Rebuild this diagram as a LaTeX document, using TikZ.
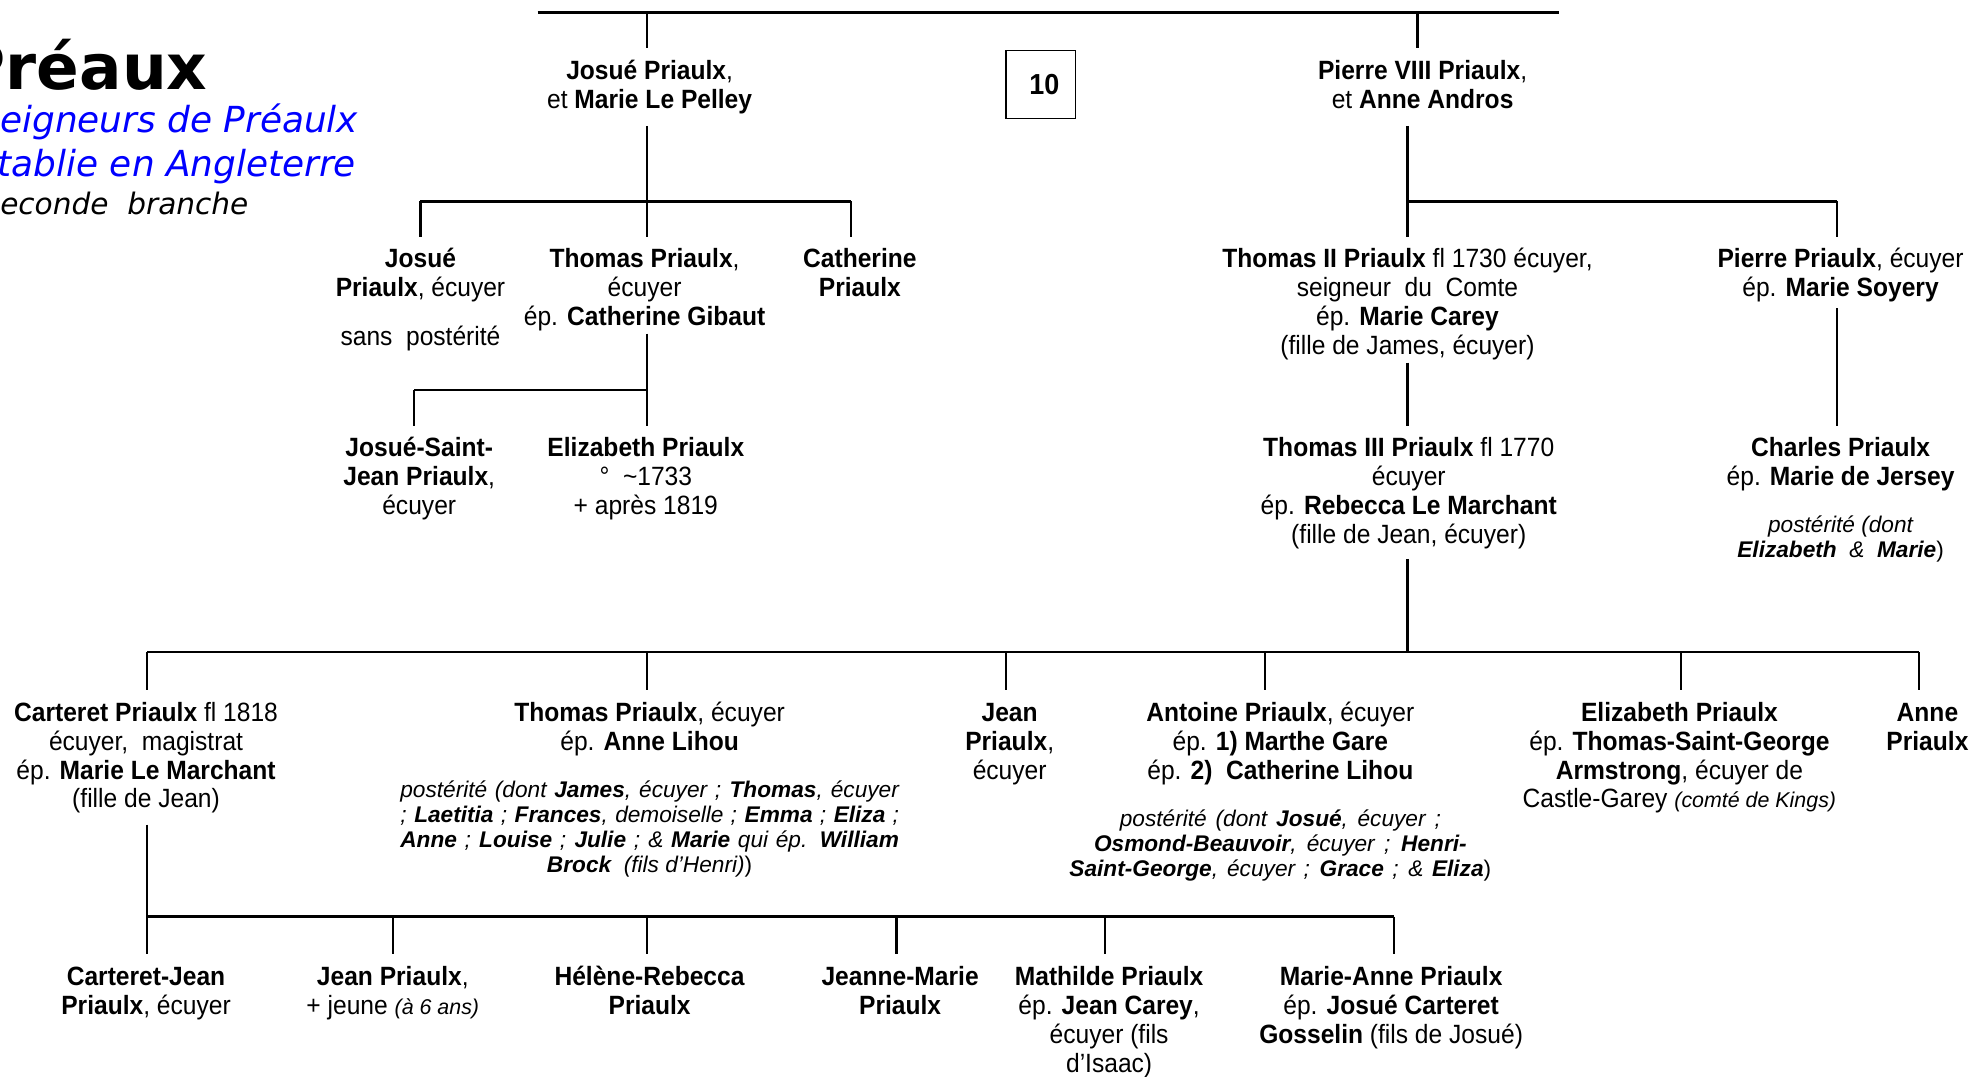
\documentclass[tikz,border=0pt]{standalone}
\usepackage{fontspec}
\setmainfont[FakeStretch=0.93]{Liberation Sans}
\newfontfamily\widefont{Liberation Sans}
\newfontfamily\titlefont{DejaVu Sans}
\definecolor{titleblue}{RGB}{0,0,255}
\newcommand{\smit}[1]{{\widefont\fontsize{17}{20}\selectfont\itshape #1}}
\begin{document}
\begin{tikzpicture}[x=1pt,y=-1pt,
  person/.style={anchor=north,align=center,inner sep=0pt,font=\fontsize{21}{23}\selectfont},
  post/.style={anchor=north,align=center,inner sep=0pt,font=\widefont\fontsize{18}{20}\selectfont\itshape},
  link/.style={line width=1.8pt},
  drop/.style={line width=1.8pt,shorten >=8.5pt},
  numbox/.style={draw,line width=1pt,minimum width=55pt,minimum height=54pt,inner sep=0pt,font=\fontsize{23}{24}\selectfont\bfseries},
  titleA/.style={anchor=base east,inner sep=0pt},
  titleW/.style={anchor=base west,inner sep=0pt}]
\useasboundingbox (0,0) rectangle (1568,855);
\clip (0,0) rectangle (1568,855);

% ---- title ----
\node[titleA,font=\titlefont\bfseries\fontsize{50}{50}\selectfont] (title) at (165,71) {Préaux};
\node[titleW,text=titleblue,font=\titlefont\itshape\fontsize{28.5}{30}\selectfont] (sub1) at (0,105) {eigneurs de Préaulx};
\node[titleW,text=titleblue,font=\titlefont\itshape\fontsize{28.5}{30}\selectfont] (sub2) at (-2,140) {tablie en Angleterre};
\node[titleW,font=\titlefont\itshape\fontsize{23.5}{26}\selectfont] (sub3) at (0,170) {econde\ \ branche};

% ---- generation 0 ----
\node[person] (josue0) at (516,46.5) {\strut\textbf{Josué Priaulx},\\et \textbf{Marie Le Pelley}};
\node[person] (pierre8) at (1130,46.5) {\strut\textbf{Pierre VIII Priaulx},\\et \textbf{Anne Andros}};
\node[numbox] (ten) at (826.5,67) {\hspace*{6pt}\raisebox{-4pt}{10}};

% ---- generation 1 ----
\node[person] (josue1) at (334,196.5) {\strut\textbf{Josué}\\\textbf{Priaulx}, écuyer};
\node[person] (sans) at (334,258.5) {\strut sans\ \ postérité};
\node[person] (thomas1) at (512,196.5) {\strut\textbf{Thomas Priaulx},\\écuyer\\ép. \textbf{Catherine Gibaut}};
\node[person] (catherine) at (683,196.5) {\strut\textbf{Catherine}\\\textbf{Priaulx}};
\node[person] (thomas2) at (1118,196.5) {\strut\textbf{Thomas II Priaulx} fl 1730 écuyer,\\seigneur\ \ du\ \ Comte\\ép. \textbf{Marie Carey}\\(fille de James, écuyer)};
\node[person] (pierre) at (1462,196.5) {\strut\textbf{Pierre Priaulx}, écuyer\\ép. \textbf{Marie Soyery}};

% ---- generation 2 ----
\node[person] (jsj) at (333,346.5) {\strut\textbf{Josué-Saint-}\\\textbf{Jean Priaulx},\\écuyer};
\node[person] (eliz1) at (513,346.5) {\strut\textbf{Elizabeth Priaulx}\\°\ \ \textasciitilde1733\\+ après 1819};
\node[person] (thomas3) at (1119,346.5) {\strut\textbf{Thomas III Priaulx} fl 1770\\écuyer\\ép. \textbf{Rebecca Le Marchant}\\(fille de Jean, écuyer)};
\node[person] (charles) at (1462,346.5) {\strut\textbf{Charles Priaulx}\\ép. \textbf{Marie de Jersey}};
\node[post] (charlespost) at (1462,409) {\strut postérité (dont\\\makebox[164pt][s]{\textbf{Elizabeth} \& \textbf{Marie}\upshape)}};

% ---- generation 3 ----
\node[person] (carteret) at (116,556.5) {\strut\textbf{Carteret Priaulx} fl 1818\\écuyer,\ \ magistrat\\ép. \textbf{Marie Le Marchant}\\(fille de Jean)};
\node[person] (thomas4) at (516,556.5) {\strut\textbf{Thomas Priaulx}, écuyer\\ép. \textbf{Anne Lihou}};
\node[post] (thomaspost) at (516,619) {\strut\makebox[396pt][s]{postérité (dont \textbf{James}, écuyer ; \textbf{Thomas}, écuyer}\\
  \makebox[396pt][s]{; \textbf{Laetitia} ; \textbf{Frances}, demoiselle ; \textbf{Emma} ; \textbf{Eliza} ;}\\
  \makebox[396pt][s]{\textbf{Anne} ; \textbf{Louise} ; \textbf{Julie} ; \& \textbf{Marie} qui ép. \textbf{William}}\\
  \textbf{Brock}\ \ (fils d’Henri)\upshape)};
\node[person] (jean) at (802,556.5) {\strut\textbf{Jean}\\\textbf{Priaulx},\\écuyer};
\node[person] (antoine) at (1017,556.5) {\strut\textbf{Antoine Priaulx}, écuyer\\ép. \textbf{1) Marthe Gare}\\ép. \textbf{2)\ \ Catherine Lihou}};
\node[post] (antoinepost) at (1017,642) {\strut\makebox[255pt][s]{postérité (dont \textbf{Josué}, écuyer ;}\\
  \makebox[296pt][s]{\textbf{Osmond-Beauvoir}, écuyer ; \textbf{Henri-}}\\
  \makebox[335pt][s]{\textbf{Saint-George}, écuyer ; \textbf{Grace} ; \& \textbf{Eliza}\upshape)}};
\node[person] (eliz2) at (1334,556.5) {\strut\textbf{Elizabeth Priaulx}\\ép. \textbf{Thomas-Saint-George}\\\textbf{Armstrong}, écuyer de\\Castle-Garey \smit{(comté de Kings)}};
\node[person] (anne) at (1531,556.5) {\strut\textbf{Anne}\\\textbf{Priaulx}};

% ---- generation 4 ----
\node[person] (cj) at (116,766.5) {\strut\textbf{Carteret-Jean}\\\textbf{Priaulx}, écuyer};
\node[person] (jean2) at (312,766.5) {\strut\textbf{Jean Priaulx},\\+ jeune \smit{(à 6 ans)}};
\node[person] (helene) at (516,766.5) {\strut\textbf{Hélène-Rebecca}\\\textbf{Priaulx}};
\node[person] (jeanne) at (715,766.5) {\strut\textbf{Jeanne-Marie}\\\textbf{Priaulx}};
\node[person] (mathilde) at (881,766.5) {\strut\textbf{Mathilde Priaulx}\\ép. \textbf{Jean Carey},\\écuyer (fils\\d’Isaac)};
\node[person] (marieanne) at (1105,766.5) {\strut\textbf{Marie-Anne Priaulx}\\ép. \textbf{Josué Carteret}\\\textbf{Gosselin} (fils de Josué)};

% ---- junction coordinates ----
\coordinate (topL) at (427,10);
\coordinate (topR) at (1238,10);
\coordinate (tJ) at (514,10);
\coordinate (tP) at (1126,10);
\coordinate (sJ) at (514,100);
\coordinate (bJ) at (514,160);
\coordinate (bJL) at (334,160);
\coordinate (bJR) at (676,160);
\coordinate (sT) at (514,265);
\coordinate (bT) at (514,310);
\coordinate (bTL) at (329,310);
\coordinate (sP) at (1118,100);
\coordinate (bP) at (1118,160);
\coordinate (bPR) at (1459,160);
\coordinate (sT2) at (1118,288);
\coordinate (sPi) at (1459,245);
\coordinate (sT3) at (1118,444);
\coordinate (bT3) at (1118,518);
\coordinate (g1) at (117,518);
\coordinate (g2) at (514,518);
\coordinate (g3) at (799,518);
\coordinate (g4) at (1005,518);
\coordinate (g5) at (1335,518);
\coordinate (g6) at (1524,518);
\coordinate (sC) at (117,655);
\coordinate (h1) at (117,728);
\coordinate (h2) at (312,728);
\coordinate (h3) at (514,728);
\coordinate (h4) at (712,728);
\coordinate (h5) at (878,728);
\coordinate (h6) at (1107,728);

% ---- connectors ----
\draw[link] (topL) -- (topR);
\draw[drop] (tJ) -- (tJ |- josue0.north);
\draw[drop] (tP) -- (tP |- pierre8.north);

\draw[link] (sJ) -- (bJ);
\draw[link] (bJL) -- (bJR);
\draw[drop] (bJL) -- (bJL |- josue1.north);
\draw[drop] (bJ) -- (bJ |- thomas1.north);
\draw[drop] (bJR) -- (bJR |- catherine.north);

\draw[link] (sT) -- (bT) -- (bTL);
\draw[drop] (bTL) -- (bTL |- jsj.north);
\draw[drop] (bT) -- (bT |- eliz1.north);

\draw[link] (sP) -- (bP) -- (bPR);
\draw[drop] (bP) -- (bP |- thomas2.north);
\draw[drop] (bPR) -- (bPR |- pierre.north);

\draw[drop] (sT2) -- (sT2 |- thomas3.north);
\draw[drop] (sPi) -- (sPi |- charles.north);

\draw[link] (sT3) -- (bT3);
\draw[link] (g1) -- (g6);
\draw[drop] (g1) -- (g1 |- carteret.north);
\draw[drop] (g2) -- (g2 |- thomas4.north);
\draw[drop] (g3) -- (g3 |- jean.north);
\draw[drop] (g4) -- (g4 |- antoine.north);
\draw[drop] (g5) -- (g5 |- eliz2.north);
\draw[drop] (g6) -- (g6 |- anne.north);

\draw[link] (sC) -- (h1);
\draw[link] (h1) -- (h6);
\draw[drop] (h1) -- (h1 |- cj.north);
\draw[drop] (h2) -- (h2 |- jean2.north);
\draw[drop] (h3) -- (h3 |- helene.north);
\draw[drop] (h4) -- (h4 |- jeanne.north);
\draw[drop] (h5) -- (h5 |- mathilde.north);
\draw[drop] (h6) -- (h6 |- marieanne.north);
\end{tikzpicture}
\end{document}
